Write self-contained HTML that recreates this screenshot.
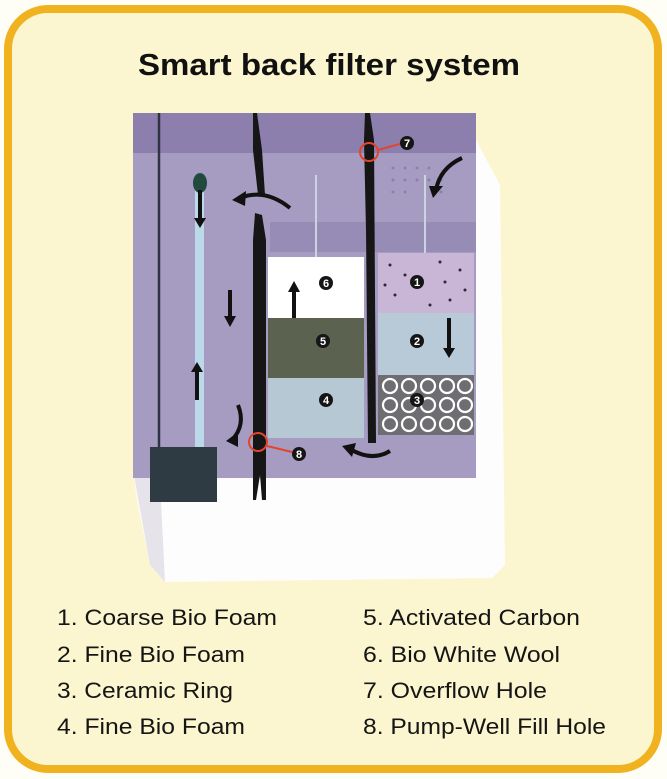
<!DOCTYPE html>
<html><head><meta charset="utf-8"><style>html,body{margin:0;padding:0;background:#fff}svg{display:block}</style></head>
<body>
<svg width="667" height="779" viewBox="0 0 667 779" xmlns="http://www.w3.org/2000/svg" font-family="Liberation Sans, sans-serif">
<rect x="0" y="0" width="667" height="779" fill="#fffef6"/>
<rect x="8" y="9" width="650" height="760" rx="40" fill="#fbf6cf" stroke="#f0b21e" stroke-width="8"/>
<text x="138" y="75" font-size="31" font-weight="bold" textLength="382" lengthAdjust="spacingAndGlyphs" fill="#111">Smart back filter system</text>
<!-- white base -->
<polygon points="133,470 476,470 476,140 500,185 505,565 492,578 165,582 150,565 137,500" fill="#fdfdfd"/>
<polygon points="133,470 150,565 165,582 160,480" fill="#e6e4ea"/>
<!-- purple -->
<rect x="133" y="113" width="343" height="365" fill="#a69cc2"/>
<rect x="133" y="113" width="343" height="40" fill="#8c7fad"/>
<rect x="270" y="222" width="206" height="30" fill="#978cb6"/>
<g fill="#8a80ab">
<circle cx="393" cy="168" r="1.5"/><circle cx="405" cy="168" r="1.5"/><circle cx="417" cy="168" r="1.5"/><circle cx="429" cy="168" r="1.5"/>
<circle cx="393" cy="180" r="1.5"/><circle cx="405" cy="180" r="1.5"/><circle cx="417" cy="180" r="1.5"/><circle cx="429" cy="180" r="1.5"/><circle cx="441" cy="180" r="1.5"/>
<circle cx="393" cy="192" r="1.5"/><circle cx="405" cy="192" r="1.5"/><circle cx="441" cy="192" r="1.5"/>
</g>
<line x1="316" y1="175" x2="316" y2="257" stroke="#c8d4e0" stroke-width="2"/>
<line x1="425" y1="175" x2="425" y2="253" stroke="#c8d4e0" stroke-width="2"/>
<line x1="159" y1="113" x2="159" y2="450" stroke="#2f3444" stroke-width="2.5"/>
<rect x="195" y="185" width="9" height="265" fill="#bcd9ea"/>
<ellipse cx="200" cy="183" rx="7" ry="10" fill="#1f4a3c"/>
<rect x="150" y="447" width="67" height="55" fill="#2e3b42"/>
<rect x="268" y="257" width="96" height="61" fill="#ffffff"/>
<rect x="268" y="318" width="96" height="60" fill="#5b6250"/>
<rect x="268" y="378" width="96" height="60" fill="#b7c8d5"/>
<rect x="378" y="253" width="96" height="60" fill="#c9b5d6"/>
<rect x="378" y="313" width="96" height="62" fill="#b8c9d7"/>
<rect x="378" y="375" width="96" height="60" fill="#6e6e72"/>
<g fill="#2a2a30">
<circle cx="390" cy="265" r="1.5"/><circle cx="405" cy="275" r="1.5"/><circle cx="440" cy="262" r="1.5"/><circle cx="460" cy="270" r="1.5"/><circle cx="395" cy="295" r="1.5"/><circle cx="450" cy="300" r="1.5"/><circle cx="465" cy="290" r="1.5"/><circle cx="430" cy="305" r="1.5"/><circle cx="385" cy="285" r="1.5"/><circle cx="445" cy="282" r="1.5"/>
</g>
<g fill="none" stroke="#fff" stroke-width="2.2">
<circle cx="390" cy="386" r="7"/><circle cx="409" cy="386" r="7"/><circle cx="428" cy="386" r="7"/><circle cx="447" cy="386" r="7"/><circle cx="465" cy="386" r="7"/>
<circle cx="390" cy="405" r="7"/><circle cx="409" cy="405" r="7"/><circle cx="428" cy="405" r="7"/><circle cx="447" cy="405" r="7"/><circle cx="465" cy="405" r="7"/>
<circle cx="390" cy="424" r="7"/><circle cx="409" cy="424" r="7"/><circle cx="428" cy="424" r="7"/><circle cx="447" cy="424" r="7"/><circle cx="465" cy="424" r="7"/>
</g>
<polygon points="253,113 257,113 262,150 265,195 258,195 253,150" fill="#161616"/>
<polygon points="255,213 262,215 266,240 266,500 262,500 260,475 256,500 253,500 253,240" fill="#161616"/>
<polygon points="365,113 370,113 374,140 376,443 368,443 366,230 364,140" fill="#161616"/>
<g fill="none" stroke="#111" stroke-width="4">
<path d="M240,198 Q265,188 290,208"/>
<path d="M462,158 Q440,168 436,190"/>
<path d="M238,405 Q246,425 232,440"/>
<path d="M390,451 Q372,462 350,449"/>
<line x1="200" y1="190" x2="200" y2="220"/>
<line x1="230" y1="290" x2="230" y2="318"/>
<line x1="197" y1="400" x2="197" y2="370"/>
<line x1="294" y1="318" x2="294" y2="290"/>
<line x1="449" y1="318" x2="449" y2="350"/>
</g>
<g fill="#111">
<polygon points="232,200 246,191 245,206"/>
<polygon points="429,186 443,186 433,198"/>
<polygon points="226,441 238,432 238,447"/>
<polygon points="342,446 356,443 352,457"/>
<polygon points="194,218 206,218 200,228"/>
<polygon points="224,316 236,316 230,327"/>
<polygon points="191,372 203,372 197,362"/>
<polygon points="288,292 300,292 294,281"/>
<polygon points="443,348 455,348 449,358"/>
</g>
<g fill="none" stroke="#e2452d" stroke-width="2">
<circle cx="369" cy="152" r="9"/><line x1="378" y1="150" x2="400" y2="144"/>
<circle cx="258" cy="442" r="9"/><line x1="267" y1="446" x2="292" y2="452"/>
</g>
<g font-size="11" font-weight="bold" text-anchor="middle">
<circle cx="407" cy="143" r="7" fill="#151515"/><text x="407" y="147" fill="#fff">7</text>
<circle cx="299" cy="454" r="7" fill="#151515"/><text x="299" y="458" fill="#fff">8</text>
<circle cx="326" cy="283" r="7" fill="#151515"/><text x="326" y="287" fill="#fff">6</text>
<circle cx="323" cy="341" r="7" fill="#151515"/><text x="323" y="345" fill="#fff">5</text>
<circle cx="326" cy="400" r="7" fill="#151515"/><text x="326" y="404" fill="#fff">4</text>
<circle cx="417" cy="282" r="7" fill="#151515"/><text x="417" y="286" fill="#fff">1</text>
<circle cx="417" cy="341" r="7" fill="#151515"/><text x="417" y="345" fill="#fff">2</text>
<circle cx="417" cy="400" r="7" fill="#151515"/><text x="417" y="404" fill="#fff">3</text>
</g>
<g font-size="22" fill="#151515">
<text x="57" y="625" textLength="220" lengthAdjust="spacingAndGlyphs">1. Coarse Bio Foam</text>
<text x="57" y="662" textLength="188" lengthAdjust="spacingAndGlyphs">2. Fine Bio Foam</text>
<text x="57" y="698" textLength="176" lengthAdjust="spacingAndGlyphs">3. Ceramic Ring</text>
<text x="57" y="734" textLength="188" lengthAdjust="spacingAndGlyphs">4. Fine Bio Foam</text>
<text x="363" y="625" textLength="217" lengthAdjust="spacingAndGlyphs">5. Activated Carbon</text>
<text x="363" y="662" textLength="197" lengthAdjust="spacingAndGlyphs">6. Bio White Wool</text>
<text x="363" y="698" textLength="184" lengthAdjust="spacingAndGlyphs">7. Overflow Hole</text>
<text x="363" y="734" textLength="243" lengthAdjust="spacingAndGlyphs">8. Pump-Well Fill Hole</text>
</g>
</svg>
</body></html>
